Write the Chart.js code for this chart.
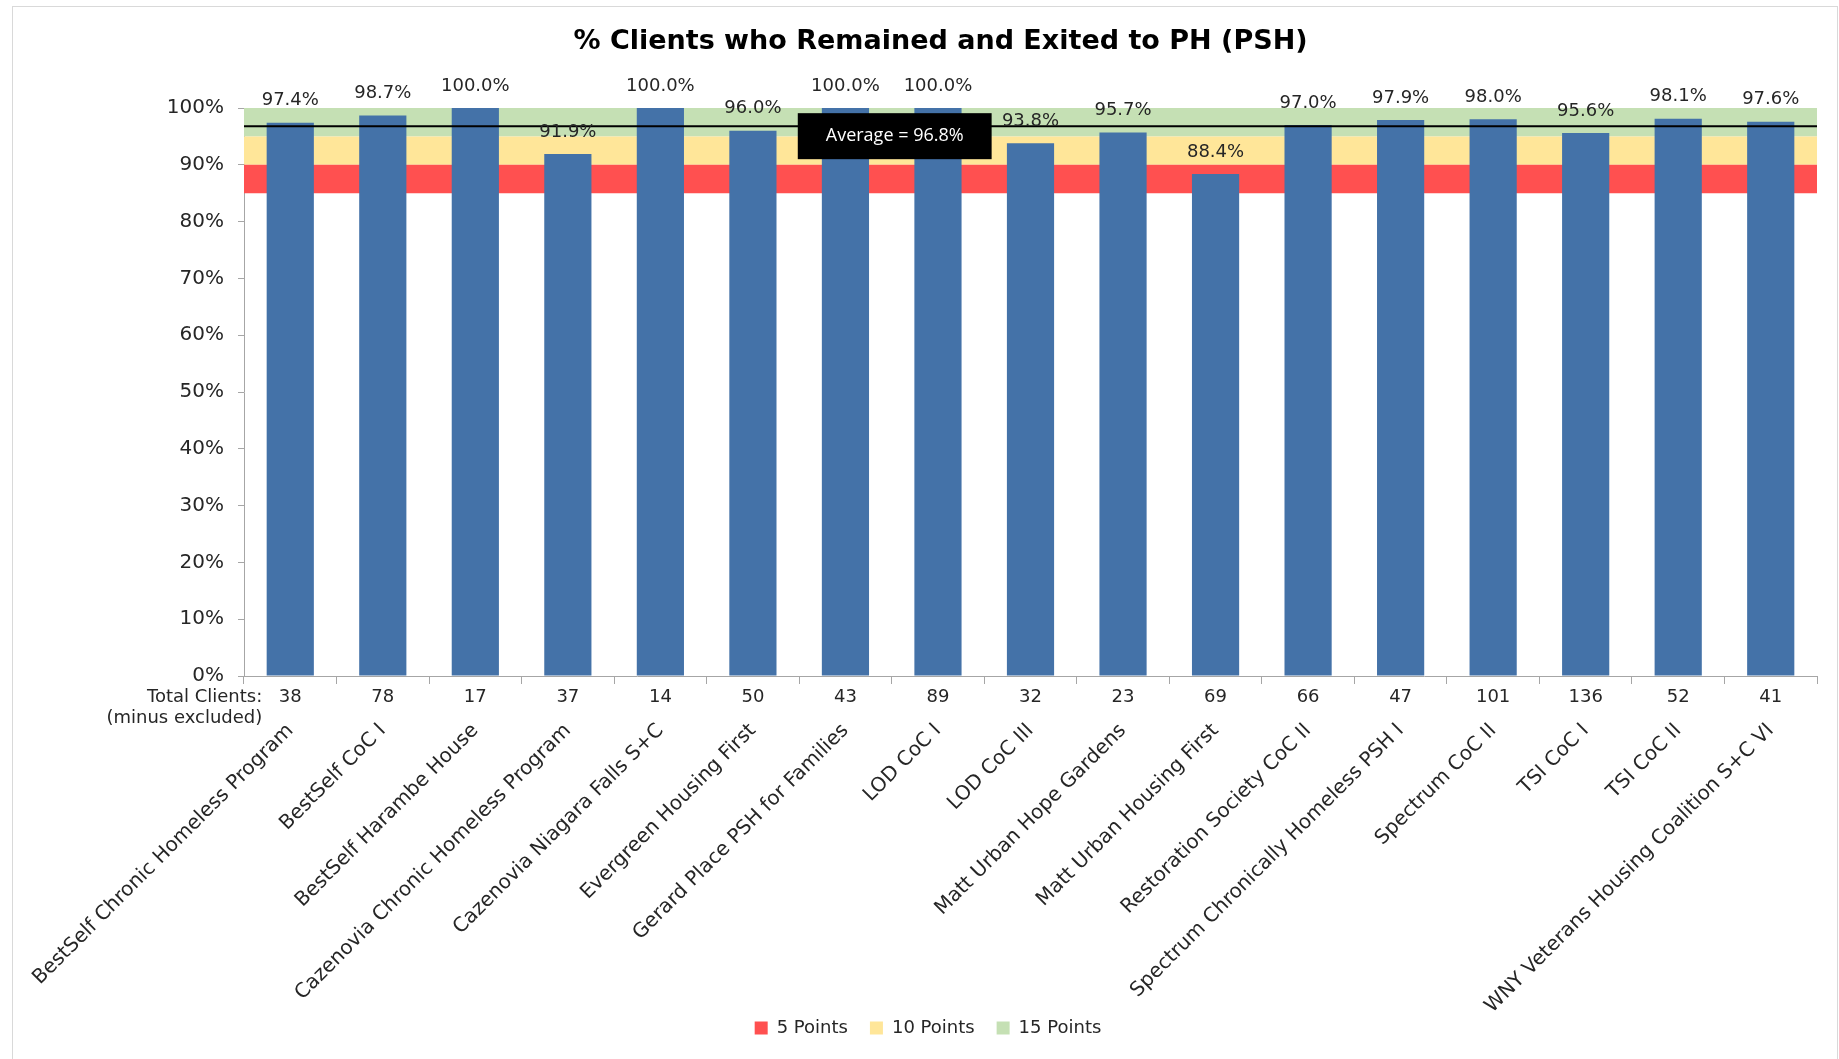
<!DOCTYPE html>
<html>
<head>
<meta charset="utf-8">
<script src="https://cdn.jsdelivr.net/npm/chart.js@4.4.1/dist/chart.umd.min.js"></script>
<style>
    body { margin: 0; background: #ffffff; }
    #frame { position: absolute; left: 12px; top: 6px; width: 1824px; height: 1060px; border: 1px solid #d9d9d9; }
    #chart { position: absolute; left: 0; top: 0; }
</style>
</head>
<body>
<div id="frame"></div>
<canvas id="chart" width="1839" height="1059"></canvas>
<script>
// Programs on the x axis
const programs = [
    'BestSelf Chronic Homeless Program',
    'BestSelf CoC I',
    'BestSelf Harambe House',
    'Cazenovia Chronic Homeless Program',
    'Cazenovia Niagara Falls S+C',
    'Evergreen Housing First',
    'Gerard Place PSH for Families',
    'LOD CoC I',
    'LOD CoC III',
    'Matt Urban Hope Gardens',
    'Matt Urban Housing First',
    'Restoration Society CoC II',
    'Spectrum Chronically Homeless PSH I',
    'Spectrum CoC II',
    'TSI CoC I',
    'TSI CoC II',
    'WNY Veterans Housing Coalition S+C VI'
];

// % clients who remained and exited to PH
const remainedPct = [97.4, 98.7, 100.0, 91.9, 100.0, 96.0, 100.0, 100.0, 93.8, 95.7, 88.4, 97.0, 97.9, 98.0, 95.6, 98.1, 97.6];

// Total clients (minus excluded)
const totalClients = [38, 78, 17, 37, 14, 50, 43, 89, 32, 23, 69, 66, 47, 101, 136, 52, 41];

const averagePct = 96.8;

// Scoring bands: 85-90 = 5 pts, 90-95 = 10 pts, 95-100 = 15 pts
const bandNames = ['5 Points', '10 Points', '15 Points'];
const bandEdges = [85, 90, 95, 100];
const bandColors = ['#FF5050', '#FFE699', '#C5E0B4'];

const chartTitle = '% Clients who Remained and Exited to PH (PSH)';
const textColor = '#262626';
const fontFamily = '"DejaVu Sans", sans-serif';
const span = programs.length;

// Band datasets: flat lines across the whole plot, filled down to the previous one
const bandDatasets = [{
    type: 'line',
    label: 'base',
    xAxisID: 'xb',
    data: [{ x: 0, y: bandEdges[0] }, { x: span, y: bandEdges[0] }],
    borderColor: 'rgba(0,0,0,0)',
    pointRadius: 0,
    fill: false,
    order: 5
}];
bandNames.forEach((name, i) => {
    bandDatasets.push({
        type: 'line',
        label: name,
        xAxisID: 'xb',
        data: [{ x: 0, y: bandEdges[i + 1] }, { x: span, y: bandEdges[i + 1] }],
        borderColor: 'rgba(0,0,0,0)',
        borderWidth: 0,
        backgroundColor: bandColors[i],
        pointRadius: 0,
        fill: '-1',
        order: 5
    });
});

// Title, labels above the bars, the average callout and the "Total Clients" caption
const extrasPlugin = {
    id: 'extras',
    afterDatasetsDraw(chart) {
        const ctx = chart.ctx;
        const meta = chart.getDatasetMeta(0);
        ctx.save();
        ctx.font = '18px ' + fontFamily;
        ctx.fillStyle = textColor;
        ctx.textAlign = 'center';
        ctx.textBaseline = 'middle';
        meta.data.forEach((bar, i) => {
            ctx.fillText(remainedPct[i].toFixed(1) + '%', bar.x, bar.y - 22);
        });

        // average callout box
        const xb = chart.scales.xb;
        const y = chart.scales.y;
        const label = 'Average = ' + averagePct.toFixed(1) + '%';
        ctx.font = '18px "Open Sans", sans-serif';
        const w = ctx.measureText(label).width + 56;
        const h = 46;
        const cx = xb.getPixelForValue(7) + 3;
        const top = y.getPixelForValue(averagePct) - 13;
        ctx.fillStyle = '#000000';
        ctx.fillRect(cx - w / 2, top, w, h);
        ctx.fillStyle = '#ffffff';
        ctx.fillText(label, cx, top + h / 2);

        // caption left of the client counts
        const xc = chart.scales.xc;
        const right = xc.getPixelForTick(0) - 28;
        ctx.font = '18px ' + fontFamily;
        ctx.fillStyle = textColor;
        ctx.textAlign = 'right';
        ctx.fillText('Total Clients:', right, chart.chartArea.bottom + 21);
        ctx.fillText('(minus excluded)', right, chart.chartArea.bottom + 42);

        // title
        ctx.font = 'bold 27px ' + fontFamily;
        ctx.fillStyle = '#000000';
        ctx.textAlign = 'center';
        ctx.fillText(chartTitle, chart.width / 2 + 21, 42);
        ctx.restore();
    }
};

const ctx = document.getElementById('chart').getContext('2d');
new Chart(ctx, {
    type: 'bar',
    data: {
        labels: programs,
        datasets: [
            {
                type: 'bar',
                label: 'Remained / Exited to PH',
                data: remainedPct,
                xAxisID: 'x',
                backgroundColor: '#4472A8',
                grouped: false,
                barPercentage: 0.51,
                categoryPercentage: 1,
                order: 2
            },
            {
                type: 'line',
                label: 'Average',
                xAxisID: 'xb',
                data: [{ x: 0, y: averagePct }, { x: span, y: averagePct }],
                borderColor: '#000000',
                borderWidth: 2,
                pointRadius: 0,
                fill: false,
                order: 1
            },
            ...bandDatasets
        ]
    },
    options: {
        responsive: false,
        animation: false,
        devicePixelRatio: 1,
        layout: { padding: { left: 39, right: 22, top: 108, bottom: 12 } },
        scales: {
            y: {
                min: 0,
                max: 100,
                ticks: {
                    stepSize: 10,
                    callback: v => v + '%',
                    font: { family: fontFamily, size: 20 },
                    color: textColor,
                    padding: 14
                },
                grid: { display: true, drawOnChartArea: false, tickLength: 6, color: '#a6a6a6' },
                border: { color: '#a6a6a6' },
                afterFit: s => { s.width = 205; }
            },
            xb: {
                type: 'linear',
                min: 0,
                max: span,
                offset: false,
                grid: { offset: false },
                display: false
            },
            xc: {
                type: 'category',
                labels: totalClients.map(String),
                position: 'bottom',
                offset: true,
                weight: 1,
                ticks: {
                    autoSkip: false,
                    maxRotation: 0,
                    font: { family: fontFamily, size: 18 },
                    color: textColor,
                    padding: 3
                },
                grid: { display: true, offset: true, drawOnChartArea: false, tickLength: 8, color: '#a6a6a6' },
                border: { color: '#a6a6a6' },
                afterFit: s => { s.height = 33; }
            },
            x: {
                position: 'bottom',
                weight: 2,
                ticks: {
                    autoSkip: false,
                    minRotation: 45,
                    maxRotation: 45,
                    font: { family: fontFamily, size: 20 },
                    color: textColor,
                    padding: 10
                },
                grid: { display: false, drawTicks: false },
                border: { display: false },
                afterFit: s => {
                    s.height = 288;
                    // long names run past the axis box, like in the original
                    s._computeLabelArea = () => null;
                }
            }
        },
        plugins: {
            title: { display: false },
            legend: {
                position: 'bottom',
                labels: {
                    filter: item => bandNames.includes(item.text),
                    boxWidth: 13,
                    boxHeight: 13,
                    padding: 22,
                    font: { family: fontFamily, size: 18 },
                    color: textColor
                }
            },
            tooltip: { enabled: false }
        }
    },
    plugins: [extrasPlugin]
});
</script>
</body>
</html>
